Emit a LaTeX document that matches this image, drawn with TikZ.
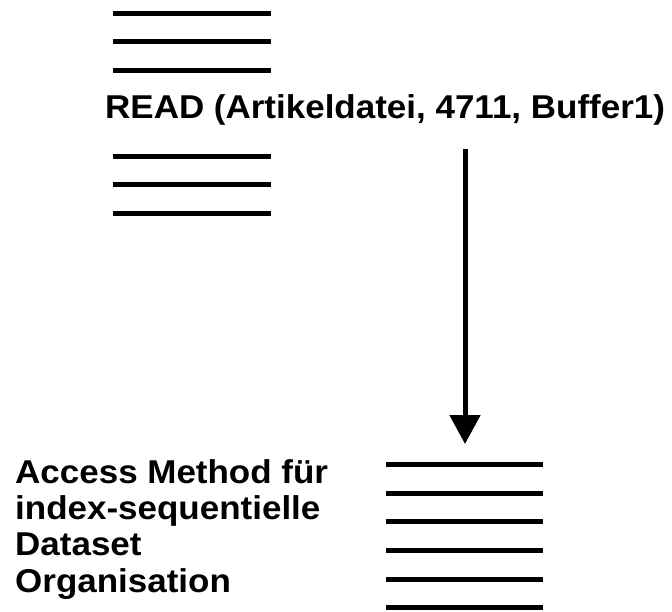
\documentclass[tikz,border=0pt]{standalone}
\usepackage{fontspec}
\usepackage{graphicx}
\setmainfont{Liberation Sans}
\usetikzlibrary{arrows.meta}
\tikzset{
  bar/.style={line width=5pt},
  lbl/.style={inner sep=0pt, anchor=base west, font=\fontsize{33}{36.3}\selectfont\bfseries},
  flow/.style={line width=5pt, -{Triangle[width=30pt,length=29pt]}}
}
\begin{document}
\begin{tikzpicture}[x=1pt,y=-1pt]
\useasboundingbox (0,0) rectangle (672,611);
% upper program text lines
\foreach \yy in {13.3,41.3,70.3,156,184.7,213.3}
  \draw[bar] (112.7,\yy) -- (270.7,\yy);
\node[lbl] (read) at (105,118.5) {\scalebox{1.06}[1]{READ (Artikeldatei, 4711, Buffer1)}};
% access method lines
\foreach \yy in {464,493.3,521.3,550.7,579,607.3}
  \draw[bar] (386,\yy) -- (543.3,\yy);
\node[lbl] (ams) at (15,483.3) {\scalebox{1.06}[1]{\begin{tabular}[t]{@{}l@{}}Access Method für\\ index-sequentielle\\ Dataset\\ Organisation\end{tabular}}};
\coordinate (atop) at (465,149.3);
\coordinate (atip) at (465,444);
\draw[flow] (atop) -- (atip);
\end{tikzpicture}
\end{document}
